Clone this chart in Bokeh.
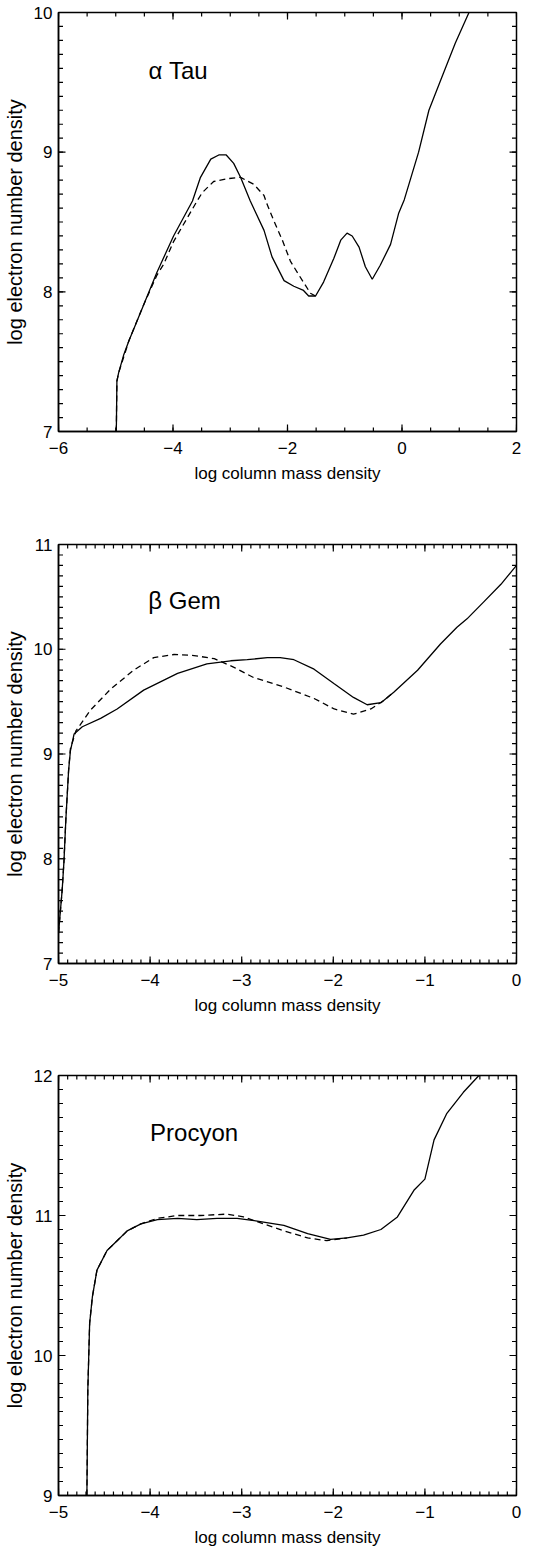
import numpy as np
from bokeh.plotting import figure
from bokeh.layouts import column
from bokeh.models import Range1d, LinearAxis, SingleIntervalTicker, CustomJSTickFormatter, Label
from bokeh.embed import file_html
from bokeh.resources import INLINE

# ---------------- data ----------------
# alpha Tau
tau_solid_x = [-4.99, -4.98, -4.95, -4.86, -4.77, -4.68, -4.51, -4.28, -3.99, -3.66, -3.52, -3.34,
               -3.20, -3.07, -2.94, -2.82, -2.65, -2.41, -2.27, -2.06, -1.89, -1.72, -1.63, -1.51,
               -1.37, -1.19, -1.07, -0.96, -0.87, -0.75, -0.64, -0.52, -0.38, -0.20, -0.06, 0.04,
               0.29, 0.47, 0.67, 0.93, 1.17]
tau_solid_y = [7.00, 7.36, 7.42, 7.55, 7.65, 7.74, 7.91, 8.14, 8.40, 8.65, 8.82, 8.95,
               8.98, 8.98, 8.92, 8.82, 8.65, 8.44, 8.25, 8.08, 8.04, 8.01, 7.97, 7.97,
               8.07, 8.24, 8.37, 8.42, 8.40, 8.32, 8.18, 8.09, 8.19, 8.34, 8.56, 8.66,
               9.00, 9.30, 9.51, 9.78, 10.00]
tau_dash_x = [-4.99, -4.98, -4.95, -4.77, -4.51, -4.28, -4.16, -3.99, -3.75, -3.58, -3.49, -3.29,
              -3.05, -2.82, -2.59, -2.41, -2.36, -2.24, -2.09, -1.95, -1.80, -1.60, -1.51]
tau_dash_y = [7.00, 7.36, 7.42, 7.65, 7.91, 8.12, 8.20, 8.36, 8.53, 8.65, 8.71, 8.79,
              8.81, 8.82, 8.77, 8.69, 8.63, 8.51, 8.37, 8.22, 8.12, 7.99, 7.97]

# beta Gem
gem_solid_x = [-5.00, -4.96, -4.94, -4.92, -4.89, -4.87, -4.83, -4.74, -4.54, -4.36, -4.07, -3.70,
               -3.38, -3.12, -2.94, -2.72, -2.58, -2.43, -2.21, -1.99, -1.78, -1.63, -1.48, -1.34,
               -1.08, -0.83, -0.65, -0.54, -0.36, -0.17, 0.00]
gem_solid_y = [7.29, 7.70, 7.98, 8.37, 8.84, 9.03, 9.19, 9.26, 9.34, 9.43, 9.61, 9.77,
               9.86, 9.89, 9.90, 9.92, 9.92, 9.90, 9.81, 9.67, 9.54, 9.47, 9.49, 9.59,
               9.80, 10.05, 10.21, 10.29, 10.45, 10.62, 10.80]
gem_dash_x = [-5.00, -4.96, -4.94, -4.92, -4.89, -4.87, -4.81, -4.65, -4.43, -4.18, -3.96, -3.74,
              -3.52, -3.30, -3.09, -2.87, -2.54, -2.21, -1.99, -1.78, -1.59, -1.45, -1.34]
gem_dash_y = [7.29, 7.70, 7.98, 8.37, 8.84, 9.05, 9.22, 9.42, 9.62, 9.80, 9.92, 9.95,
              9.94, 9.91, 9.83, 9.73, 9.64, 9.53, 9.43, 9.38, 9.43, 9.51, 9.59]

# Procyon
pro_solid_x = [-4.69, -4.68, -4.66, -4.63, -4.58, -4.47, -4.36, -4.25, -4.10, -3.92, -3.70, -3.49,
               -3.27, -3.05, -2.83, -2.54, -2.28, -2.03, -1.85, -1.67, -1.48, -1.30, -1.12, -1.00,
               -0.90, -0.76, -0.58, -0.41]
pro_solid_y = [9.00, 9.75, 10.23, 10.42, 10.61, 10.75, 10.82, 10.89, 10.94, 10.97, 10.98, 10.97,
               10.98, 10.98, 10.96, 10.93, 10.87, 10.83, 10.84, 10.86, 10.90, 10.99, 11.18, 11.26,
               11.54, 11.73, 11.88, 12.00]
pro_dash_x = [-4.69, -4.68, -4.66, -4.63, -4.58, -4.47, -4.36, -4.25, -4.10, -3.92, -3.70, -3.45,
              -3.16, -2.98, -2.76, -2.54, -2.28, -2.07, -1.85]
pro_dash_y = [9.00, 9.75, 10.23, 10.42, 10.61, 10.75, 10.82, 10.89, 10.94, 10.98, 11.00, 11.00,
              11.01, 10.99, 10.94, 10.89, 10.84, 10.82, 10.84]

star_names = ["\u03b1 Tau", "\u03b2 Gem", "Procyon"]
x_label = "log column mass density"
y_label = "log electron number density"

FONT = "Liberation Sans"
minus_fmt = CustomJSTickFormatter(code="return tick < 0 ? '\\u2212' + Math.abs(tick) : String(tick);")


def frame_ticks(p, xr, yr, x_major, x_minor):
    """Inward-pointing ticks on all four sides (glyphs are clipped to the frame,
    so a centred dash shows only its inner half)."""
    def seq(lo, hi, step):
        n = int(round((hi - lo) / step))
        return [lo + i * step for i in range(n + 1)]
    for step, size in ((x_major, 14), (x_minor, 8)):
        xs = seq(xr[0], xr[1], step)
        p.scatter(x=xs + xs, y=[yr[0]] * len(xs) + [yr[1]] * len(xs), marker="dash",
                  angle=np.pi / 2, size=size, line_color="black", line_width=1.2)
    for step, size in ((1.0, 14), (0.1, 9)):
        ys = seq(yr[0], yr[1], step)
        p.scatter(x=[xr[0]] * len(ys) + [xr[1]] * len(ys), y=ys + ys, marker="dash",
                  angle=0, size=size, line_color="black", line_width=1.2)


def make_panel(height, top, bottom, xr, yr, x_int, x_minor_step, name, name_pos,
               sx, sy, dx, dy):
    p = figure(width=550, height=height, x_range=Range1d(*xr), y_range=Range1d(*yr),
               output_backend="svg", toolbar_location=None, title=None,
               x_axis_type=None, y_axis_type=None,
               min_border_left=58, min_border_right=34,
               min_border_top=top, min_border_bottom=bottom)
    p.xgrid.visible = False
    p.ygrid.visible = False
    p.outline_line_color = "black"
    p.outline_line_width = 1.5
    p.background_fill_color = "white"
    p.border_fill_color = "white"

    xt = SingleIntervalTicker(interval=x_int, num_minor_ticks=0)
    yt = SingleIntervalTicker(interval=1, num_minor_ticks=0)

    def style(ax):
        ax.major_tick_in = 0
        ax.major_tick_out = 0
        ax.minor_tick_in = 0
        ax.minor_tick_out = 0
        ax.axis_line_width = 1.5
        ax.axis_line_color = "black"
        ax.major_label_text_font = FONT
        ax.major_label_text_font_size = "17px"
        ax.major_label_text_color = "black"
        ax.axis_label_text_font = FONT
        ax.axis_label_text_font_style = "normal"
        ax.axis_label_text_color = "black"
        ax.formatter = minus_fmt

    xb = LinearAxis(ticker=xt, axis_label=x_label)
    style(xb)
    xb.major_label_standoff = 10
    xb.axis_label_standoff = 7
    xb.axis_label_text_font_size = "17px"
    p.add_layout(xb, "below")

    yl = LinearAxis(ticker=yt, axis_label=y_label)
    style(yl)
    yl.major_label_standoff = 6
    yl.axis_label_standoff = 5
    yl.axis_label_text_font_size = "20px"
    p.add_layout(yl, "left")

    frame_ticks(p, xr, yr, x_int, x_minor_step)

    p.line(sx, sy, line_color="black", line_width=1.3)
    p.line(dx, dy, line_color="black", line_width=1.3, line_dash="6 4")

    p.add_layout(Label(x=name_pos[0], y=name_pos[1], text=name, text_font=FONT,
                       text_font_size="24px", text_color="black",
                       text_baseline="alphabetic", text_align="left"))
    return p


p1 = make_panel(500, 12, 69, (-6, 2), (7, 10), 2, 0.5, star_names[0], (-4.43, 9.585),
                tau_solid_x, tau_solid_y, tau_dash_x, tau_dash_y)
p2 = make_panel(540, 44, 77, (-5, 0), (7, 11), 1, 0.1, star_names[1], (-4.02, 10.465),
                gem_solid_x, gem_solid_y, gem_dash_x, gem_dash_y)
p3 = make_panel(512, 35, 57, (-5, 0), (9, 12), 1, 0.1, star_names[2], (-4.0, 11.595),
                pro_solid_x, pro_solid_y, pro_dash_x, pro_dash_y)

layout = column(p1, p2, p3, spacing=0)
open("out.html", "w").write(file_html(layout, INLINE))
